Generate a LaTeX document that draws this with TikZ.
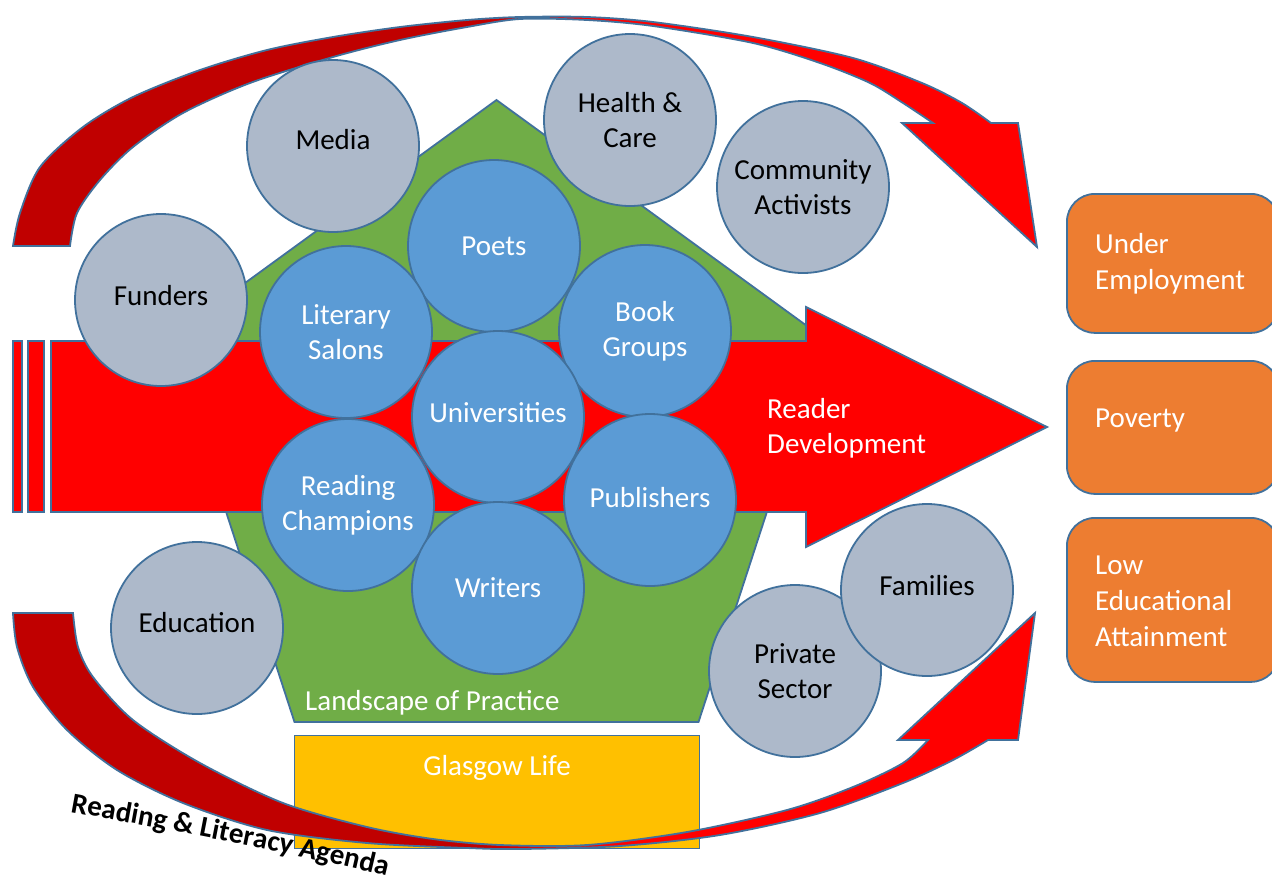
\documentclass[tikz,border=0pt]{standalone}
\usepackage{fontspec}
\setmainfont{Carlito}
\usetikzlibrary{decorations.text}
\definecolor{outl}{HTML}{41719C}
\definecolor{greyc}{HTML}{ADB9CA}
\definecolor{bluec}{HTML}{5B9BD5}
\definecolor{greenc}{HTML}{70AD47}
\definecolor{orangec}{HTML}{ED7D31}
\definecolor{yellowc}{HTML}{FFC000}
\definecolor{bred}{HTML}{FF0000}
\definecolor{dred}{HTML}{C00000}
\pgfdeclarehorizontalshading{arcshade}{100bp}{color(0bp)=(dred); color(48bp)=(dred); color(52bp)=(bred); color(100bp)=(bred)}
\begin{document}
\begin{tikzpicture}[x=1pt,y=-1pt,
  every node/.style={font=\fontsize{29}{35}\selectfont},
  shp/.style={draw=outl, line width=1.8pt},
  gcirc/.style={circle, draw=outl, line width=1.8pt, fill=greyc, minimum size=172pt, inner sep=0pt, align=center, text=black},
  bcirc/.style={gcirc, fill=bluec, text=white},
  tshift/.style={text height=20pt, text depth=#1},
  obox/.style={draw=outl, line width=1.8pt, fill=orangec, rounded corners=28pt, anchor=north west, minimum width=212pt},
  lbl/.style={text=white, align=left, inner sep=0pt},
  boxlbl/.style={lbl, anchor=west, font=\fontsize{29}{36}\selectfont},
]
\clip (0,0) rectangle (1272,876);
\fill[white] (0,0) rectangle (1272,876);

% landscape of practice pentagon
\filldraw[shp, fill=greenc] (496.5,100) -- (823.5,338) -- (698.5,722) -- (294.5,722) -- (169.5,338) -- cycle;

% Glasgow Life box
\node[draw=outl, line width=1.2pt, fill=yellowc, anchor=north west, minimum width=405pt, minimum height=113pt, inner sep=0pt] (glasgow) at (294,735) {};

% bottom curved arrow
\shade[shading=arcshade, shp, line join=miter] plot[smooth, tension=0.5] coordinates {(13,613) (17,647) (33,687) (67,730) (117,770) (183,803) (267,830) (367,843) (467,848) (520,849) (620,846) (720,835) (820,813) (903,783) (953,760) (988,740)} -- (1018,740) -- (1035,613) -- (898,740) -- (928,740) -- plot[smooth, tension=0.5] coordinates {(928,740) (903,763) (853,787) (787,810) (687,832) (587,845) (500,845) (433,839) (367,827) (283,803) (200,763) (133,720) (93,677) (78,647) (73,613)} -- cycle;

% top curved arrow
\shade[shading=arcshade, shp, line join=miter] plot[smooth, tension=0.5] coordinates {(13,246) (20,213) (40,167) (83,127) (133,97) (200,70) (267,50) (333,37) (400,27) (467,20) (520,17) (587,17) (653,22) (753,37) (853,58) (922,83) (962,103) (991,123)} -- (1018,123) -- (1037,247) -- (902,123) -- (933,123) -- plot[smooth, tension=0.5] coordinates {(933,123) (903,103) (870,83) (820,63) (753,43) (653,26) (587,20) (520,19) (467,27) (400,40) (333,57) (250,83) (183,113) (133,147) (100,180) (77,213) (70,246)} -- cycle;

% main arrow
\filldraw[shp, fill=bred] (51,341) -- (806,341) -- (806,307) -- (1047,427) -- (806,547) -- (806,512) -- (51,512) -- cycle;
\filldraw[shp, fill=bred] (13,341) rectangle (22,512);
\filldraw[shp, fill=bred] (28,341) rectangle (44,512);

% outer circles
\node[gcirc, tshift=13.4pt] (media) at (333,146) {Media};
\node[gcirc] (health) at (630,120) {Health \&\\Care};
\node[gcirc] (community) at (803,187) {Community\\Activists};
\node[gcirc, tshift=9.4pt] (funders) at (161,300) {Funders};
\node[gcirc, tshift=11.4pt] (education) at (197,628) {Education};
\node[gcirc] (private) at (795,671) {Private\\Sector};
\node[gcirc, tshift=9.4pt] (families) at (927,590) {Families};

% inner circles
\node[bcirc] (poets) at (494,246) {Poets};
\node[bcirc] (literary) at (346,332) {Literary\\Salons};
\node[bcirc] (book) at (645,331) {Book\\Groups};
\node[bcirc, tshift=9.4pt] (univ) at (498,417) {Universities};
\node[bcirc] (reading) at (348,505) {Reading\\Champions};
\node[bcirc, tshift=5.4pt] (publishers) at (650,500) {Publishers};
\node[bcirc] (writers) at (498,588) {Writers};

% outcome boxes
\node[obox, minimum height=139pt] (under) at (1066,193) {};
\node[obox, minimum height=133pt] (poverty) at (1066,360) {};
\node[obox, minimum height=164pt] (low) at (1066,517) {};
\node[boxlbl] (undertxt) at (1095,264) {Under\\Employment};
\node[boxlbl] (povtxt) at (1095,421) {Poverty};
\node[boxlbl] (lowtxt) at (1095,601) {Low\\Educational\\Attainment};

% labels
\node[lbl, anchor=west] (readerdev) at (767,428) {Reader\\Development};
\node[lbl, anchor=west] (landscape) at (305,703) {Landscape of Practice};
\node[lbl, anchor=center] (glasgowtxt) at (497,768) {Glasgow Life};

% agenda text
\path[decorate, decoration={text along path, text align={left},
  text={|\fontsize{29}{31}\selectfont\bfseries|Reading {\&} Literacy Agenda}}]
  (70,812) .. controls (170,830) and (290,852) .. (410,882);
\end{tikzpicture}
\end{document}
